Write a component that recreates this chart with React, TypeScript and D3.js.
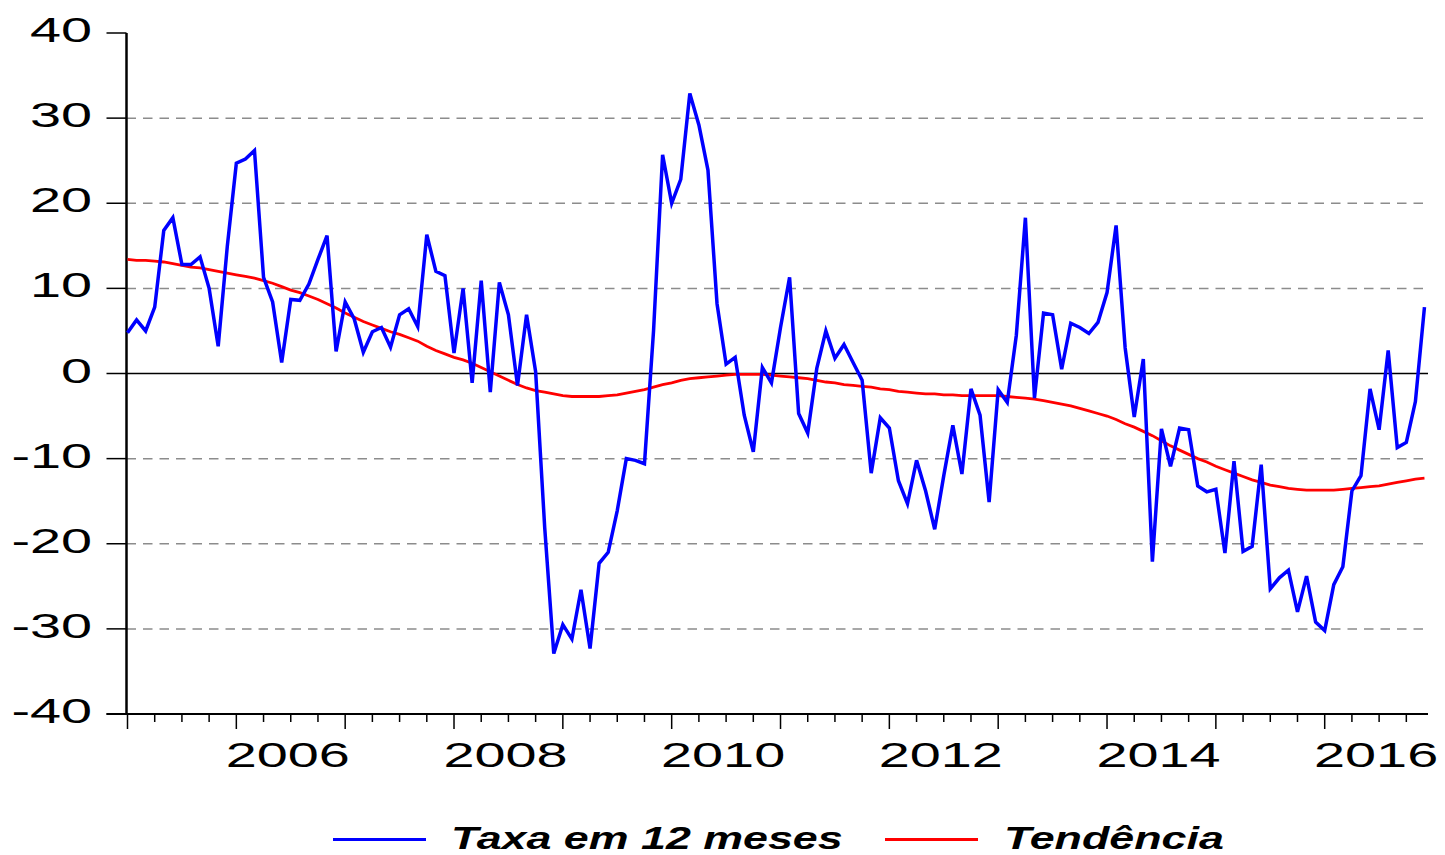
import React, { useEffect, useRef } from 'react';
import * as d3 from 'd3';

// monthly series, Jan 2005 .. Dec 2016
const startYear = 2005;

const taxa12m = [
  4.8, 6.3, 5.0, 7.8, 16.8, 18.3, 12.8, 12.8, 13.7, 10.0, 3.2, 14.9,
  24.7, 25.2, 26.2, 11.3, 8.4, 1.3, 8.7, 8.6, 10.5, 13.4, 16.2, 2.6,
  8.4, 6.4, 2.5, 4.9, 5.4, 3.1, 6.9, 7.6, 5.5, 16.3, 12.0, 11.5,
  2.4, 10.0, -1.1, 10.9, -2.2, 10.7, 6.9, -1.4, 6.9, 0.2, -18.1, -32.9,
  -29.5, -31.2, -25.4, -32.3, -22.3, -21.0, -16.1, -10.0, -10.2, -10.6, 5.0, 25.7,
  20.0, 22.8, 32.9, 29.2, 23.9, 8.2, 1.1, 1.9, -4.9, -9.2, 0.7, -1.1,
  5.4, 11.3, -4.7, -7.0, 0.6, 5.0, 1.8, 3.4, 1.3, -0.8, -11.7, -5.2,
  -6.4, -12.6, -15.3, -10.2, -13.8, -18.3, -12.0, -6.1, -11.8, -1.8, -4.9, -15.1,
  -1.9, -3.4, 4.5, 18.3, -2.9, 7.1, 6.9, 0.5, 5.9, 5.4, 4.7, 6.0,
  9.5, 17.4, 3.0, -5.1, 1.7, -22.1, -6.5, -10.9, -6.4, -6.6, -13.2, -13.9,
  -13.6, -21.1, -10.3, -20.9, -20.3, -10.7, -25.3, -24.0, -23.1, -28.0, -23.8, -29.2,
  -30.2, -24.8, -22.7, -13.8, -12.0, -1.8, -6.6, 2.7, -8.7, -8.1, -3.3, 7.8
];

const tendencia = [
  13.4, 13.3, 13.3, 13.2, 13.1, 12.9, 12.7, 12.5, 12.4, 12.2, 12.0, 11.8,
  11.6, 11.4, 11.2, 10.9, 10.6, 10.2, 9.8, 9.5, 9.1, 8.7, 8.2, 7.7,
  7.1, 6.6, 6.1, 5.7, 5.3, 4.9, 4.6, 4.2, 3.8, 3.2, 2.7, 2.3,
  1.9, 1.6, 1.2, 0.7, 0.2, -0.3, -0.8, -1.3, -1.7, -2.0, -2.2, -2.4,
  -2.6, -2.7, -2.7, -2.7, -2.7, -2.6, -2.5, -2.3, -2.1, -1.9, -1.6, -1.3,
  -1.1, -0.8, -0.6, -0.5, -0.4, -0.3, -0.2, -0.1, -0.1, -0.1, -0.1, -0.2,
  -0.3, -0.4, -0.5, -0.6, -0.8, -1.0, -1.1, -1.3, -1.4, -1.5, -1.6, -1.8,
  -1.9, -2.1, -2.2, -2.3, -2.4, -2.4, -2.5, -2.5, -2.6, -2.6, -2.6, -2.6,
  -2.6, -2.7, -2.8, -2.9, -3.0, -3.2, -3.4, -3.6, -3.8, -4.1, -4.4, -4.7,
  -5.0, -5.4, -5.9, -6.3, -6.8, -7.3, -7.9, -8.5, -9.0, -9.5, -10.0, -10.4,
  -10.9, -11.3, -11.7, -12.1, -12.5, -12.8, -13.1, -13.3, -13.5, -13.6, -13.7, -13.7,
  -13.7, -13.7, -13.6, -13.5, -13.4, -13.3, -13.2, -13.0, -12.8, -12.6, -12.4, -12.3
];

const yTicks = [40, 30, 20, 10, 0, -10, -20, -30, -40];
const yearLabels = ['2006', '2008', '2010', '2012', '2014', '2016'];
const legendNames = ['Taxa em 12 meses', 'Tendência'];

const W = 1445;
const H = 855;

export default function App() {
  const ref = useRef<SVGSVGElement>(null);

  useEffect(() => {
    const svg = d3.select(ref.current);
    svg.selectAll('*').remove();

    const x = d3.scaleLinear().domain([0, 143.5]).range([127.5, 1429]);
    const y = d3.scaleLinear().domain([-40, 40]).range([714, 33]);
    const axisX = 126.5;

    // grid
    yTicks.filter(v => v !== 40 && v !== -40 && v !== 0).forEach(v => {
      svg.append('line')
        .attr('x1', axisX).attr('x2', 1428)
        .attr('y1', y(v)).attr('y2', y(v))
        .attr('stroke', '#8c8c8c').attr('stroke-width', 1.5)
        .attr('stroke-dasharray', '9.5,7');
    });
    svg.append('line')
      .attr('x1', axisX).attr('x2', 1428)
      .attr('y1', y(0)).attr('y2', y(0))
      .attr('stroke', '#000').attr('stroke-width', 1.5);

    // y axis
    svg.append('line')
      .attr('x1', axisX).attr('x2', axisX)
      .attr('y1', y(40)).attr('y2', y(-40) + 1)
      .attr('stroke', '#000').attr('stroke-width', 2.5);
    yTicks.forEach(v => {
      svg.append('line')
        .attr('x1', 106.5).attr('x2', axisX)
        .attr('y1', y(v)).attr('y2', y(v))
        .attr('stroke', '#000').attr('stroke-width', 1.5);
      svg.append('text')
        .attr('transform', `translate(92,${y(v) + 9}) scale(1.55,1)`)
        .attr('text-anchor', 'end')
        .attr('font-family', 'Liberation Sans, Arial, sans-serif')
        .attr('font-size', 36)
        .text(String(v));
    });

    // x axis
    svg.append('line')
      .attr('x1', 106.5).attr('x2', 1428)
      .attr('y1', y(-40)).attr('y2', y(-40))
      .attr('stroke', '#000').attr('stroke-width', 2);
    d3.range(0, 144, 3).forEach(i => {
      const major = i % 12 === 0;
      svg.append('line')
        .attr('x1', x(i)).attr('x2', x(i))
        .attr('y1', y(-40)).attr('y2', y(-40) + (major ? 15 : 8))
        .attr('stroke', '#000').attr('stroke-width', 1.5);
    });
    yearLabels.forEach(lab => {
      const i = (+lab - startYear) * 12 + 6;
      svg.append('text')
        .attr('transform', `translate(${x(i) - 3},767) scale(1.55,1)`)
        .attr('text-anchor', 'middle')
        .attr('font-family', 'Liberation Sans, Arial, sans-serif')
        .attr('font-size', 36)
        .text(lab);
    });

    // series
    const line = d3.line<number>().x((d, i) => x(i)).y(d => y(d));
    svg.append('path')
      .datum(tendencia)
      .attr('d', line)
      .attr('fill', 'none')
      .attr('stroke', '#ff0000')
      .attr('stroke-width', 2.8);
    svg.append('path')
      .datum(taxa12m)
      .attr('d', line)
      .attr('fill', 'none')
      .attr('stroke', '#0000ff')
      .attr('stroke-width', 3.5);

    // legend
    const leg = [
      { name: legendNames[0], color: '#0000ff', x0: 333, tx: 451 },
      { name: legendNames[1], color: '#ff0000', x0: 885, tx: 1004 }
    ];
    leg.forEach(l => {
      svg.append('line')
        .attr('x1', l.x0).attr('x2', l.x0 + 93)
        .attr('y1', 839.5).attr('y2', 839.5)
        .attr('stroke', l.color).attr('stroke-width', 3);
      svg.append('text')
        .attr('transform', `translate(${l.tx},849) scale(1.4,1)`)
        .attr('font-family', 'Liberation Sans, Arial, sans-serif')
        .attr('font-size', 32)
        .attr('font-weight', 'bold')
        .attr('font-style', 'italic')
        .text(l.name);
    });
  }, []);

  return (
    <svg
      ref={ref}
      width={W}
      height={H}
      style={{ position: 'absolute', left: 0, top: 0, background: '#fff' }}
    />
  );
}
